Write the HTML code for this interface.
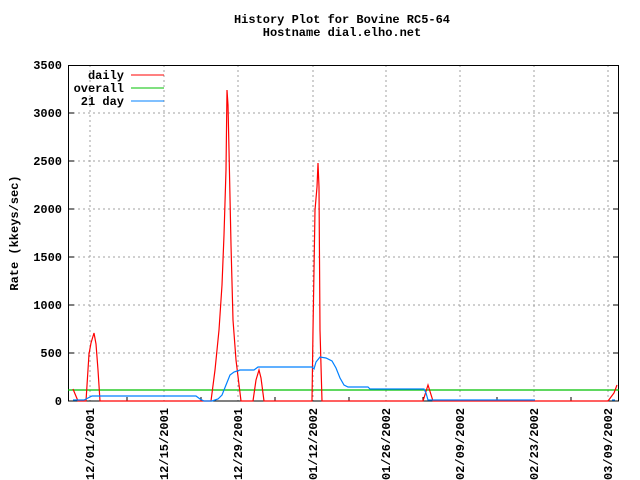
<!DOCTYPE html>
<html><head><style>body{margin:0;background:#fff}svg{display:block}</style></head>
<body>
<svg width="640" height="480" xmlns="http://www.w3.org/2000/svg" font-family="Liberation Mono, monospace" font-size="12" font-weight="bold">
<rect width="640" height="480" fill="#fff"/>
<text x="342" y="23" text-anchor="middle">History Plot for Bovine RC5-64</text>
<text x="342" y="36" text-anchor="middle">Hostname dial.elho.net</text>
<g stroke="#a0a0a0" stroke-dasharray="2,3" stroke-width="1">
<line x1="68" x2="619" y1="353" y2="353"/><line x1="68" x2="619" y1="305" y2="305"/>
<line x1="68" x2="619" y1="257" y2="257"/><line x1="68" x2="619" y1="209" y2="209"/>
<line x1="68" x2="619" y1="161" y2="161"/><line x1="68" x2="619" y1="113" y2="113"/>
<line x1="90" x2="90" y1="65" y2="401"/><line x1="164" x2="164" y1="65" y2="401"/>
<line x1="238" x2="238" y1="65" y2="401"/><line x1="313" x2="313" y1="65" y2="401"/>
<line x1="386" x2="386" y1="65" y2="401"/><line x1="460" x2="460" y1="65" y2="401"/>
<line x1="534" x2="534" y1="65" y2="401"/><line x1="608" x2="608" y1="65" y2="401"/>
</g>
<rect x="68.5" y="65.5" width="550" height="335.5" fill="none" stroke="#000"/>
<g stroke="#000">
<line x1="68" x2="74" y1="353" y2="353"/><line x1="68" x2="74" y1="305" y2="305"/><line x1="68" x2="74" y1="257" y2="257"/><line x1="68" x2="74" y1="209" y2="209"/><line x1="68" x2="74" y1="161" y2="161"/><line x1="68" x2="74" y1="113" y2="113"/>
<line x1="613" x2="619" y1="353" y2="353"/><line x1="613" x2="619" y1="305" y2="305"/><line x1="613" x2="619" y1="257" y2="257"/><line x1="613" x2="619" y1="209" y2="209"/><line x1="613" x2="619" y1="161" y2="161"/><line x1="613" x2="619" y1="113" y2="113"/>
<line x1="127" x2="127" y1="401" y2="397"/><line x1="201" x2="201" y1="401" y2="397"/><line x1="275" x2="275" y1="401" y2="397"/><line x1="349" x2="349" y1="401" y2="397"/><line x1="423" x2="423" y1="401" y2="397"/><line x1="497" x2="497" y1="401" y2="397"/><line x1="571" x2="571" y1="401" y2="397"/>
</g>
<g text-anchor="end">
<text x="62" y="405">0</text><text x="62" y="357">500</text><text x="62" y="309">1000</text><text x="62" y="261">1500</text><text x="62" y="213">2000</text><text x="62" y="165">2500</text><text x="62" y="117">3000</text><text x="62" y="69">3500</text>
</g>
<text transform="translate(18,233) rotate(-90)" text-anchor="middle">Rate (kkeys/sec)</text>
<g text-anchor="end">
<text transform="translate(94,408) rotate(-90)">12/01/2001</text>
<text transform="translate(168,408) rotate(-90)">12/15/2001</text>
<text transform="translate(242,408) rotate(-90)">12/29/2001</text>
<text transform="translate(317,408) rotate(-90)">01/12/2002</text>
<text transform="translate(390,408) rotate(-90)">01/26/2002</text>
<text transform="translate(464,408) rotate(-90)">02/09/2002</text>
<text transform="translate(538,408) rotate(-90)">02/23/2002</text>
<text transform="translate(612,408) rotate(-90)">03/09/2002</text>
</g>
<g text-anchor="end">
<text x="124" y="79">daily</text><text x="124" y="92">overall</text><text x="124" y="105">21 day</text>
</g>
<line x1="131" x2="164" y1="75" y2="75" stroke="#f00"/>
<line x1="131" x2="164" y1="88" y2="88" stroke="#00c000"/>
<line x1="131" x2="164" y1="101" y2="101" stroke="#0080ff"/>
<line x1="68" x2="619" y1="390" y2="390" stroke="#00c000" stroke-width="1.2"/>
<polyline fill="none" stroke="#f00" stroke-width="1.2" points="73,389 78,401 86,401 89,354 91,343 94,333 96,344 98,370 100,401 198,401 202,401 211,401 215,370 219,330 222,285 224,235 226,170 227,90 228,105 229,150 231,245 233,320 236,360 241,401 253,401 256,380 259,370 261,378 264,401 312,401 313,330 315,210 317,187 318,163 319,187 320,330 322,401 423,401 428,385 433,401 608,401 614,393 617,385"/>
<polyline fill="none" stroke="#0080ff" stroke-width="1.2" points="73,400 84,400 88,398 92,396 100,396 196,396 200,399 204,401 212,401 218,399 222,395 226,385 230,375 234,372 240,370 254,370 258,367 312,367 314,369 316,362 320,357 326,358 332,361 336,368 340,378 344,385 348,387 368,387 370,389 424,389 426,393 428,400 535,400"/>
<polyline fill="none" stroke="#0080ff" stroke-width="1.2" points="612,400 615,400"/>
</svg>
</body></html>
